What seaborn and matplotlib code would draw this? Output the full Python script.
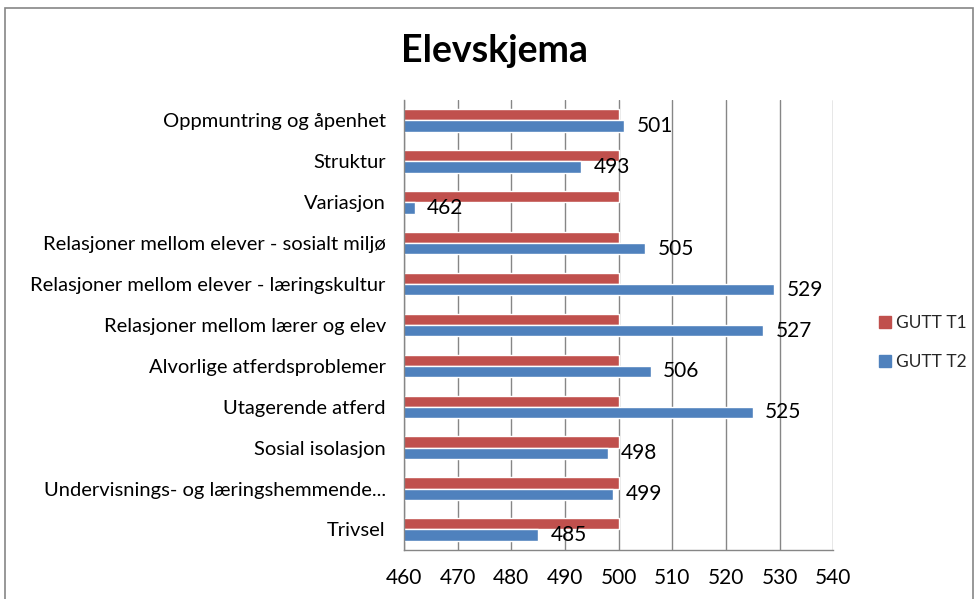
import pandas as pd
import seaborn as sns
import matplotlib.pyplot as plt
from matplotlib.patches import Rectangle
from matplotlib.ticker import FixedLocator

# Data
categories = [
    'Oppmuntring og åpenhet',
    'Struktur',
    'Variasjon',
    'Relasjoner mellom elever - sosialt miljø',
    'Relasjoner mellom elever - læringskultur',
    'Relasjoner mellom lærer og elev',
    'Alvorlige atferdsproblemer',
    'Utagerende atferd',
    'Sosial isolasjon',
    'Undervisnings- og læringshemmende...',
    'Trivsel',
]
gutt_t1 = [500, 500, 500, 500, 500, 500, 500, 500, 500, 500, 500]
gutt_t2 = [501, 493, 462, 505, 529, 527, 506, 525, 498, 499, 485]
series_names = ['GUTT T1', 'GUTT T2']
x_ticks = [460, 470, 480, 490, 500, 510, 520, 530, 540]

df = pd.DataFrame({
    'kategori': categories * 2,
    'verdi': gutt_t1 + gutt_t2,
    'serie': [series_names[0]] * len(categories) + [series_names[1]] * len(categories),
})

sns.set_style('white')
plt.rcParams['font.family'] = ['Lato', 'DejaVu Sans']

fig = plt.figure(figsize=(9.78, 5.99), dpi=100)
ax = fig.add_axes([0.413, 0.082, 0.439, 0.751])

palette = {'GUTT T1': '#C0504D', 'GUTT T2': '#4F81BD'}
sns.barplot(data=df, y='kategori', x='verdi', hue='serie', palette=palette,
            orient='h', width=0.55, gap=0, saturation=1, ax=ax, legend=False)

# value labels on the second series only
ax.bar_label(ax.containers[1], fmt='{:.0f}', padding=9, fontsize=15, color='#000000')

ax.set_xlim(x_ticks[0], x_ticks[-1])
ax.set_xticks(x_ticks)
ax.set_xlabel('')
ax.set_ylabel('')
ax.tick_params(axis='x', labelsize=15, labelcolor='#000000', length=5, width=1,
               color='#868686', direction='out', pad=8)
ax.tick_params(axis='y', which='major', labelsize=14.5, labelcolor='#000000', length=0, pad=13)
ax.yaxis.set_minor_locator(FixedLocator([i - 0.5 for i in range(len(categories) + 1)]))
ax.tick_params(axis='y', which='minor', length=5, width=1, color='#868686', direction='out')

ax.grid(axis='x', color='#868686', linewidth=1)
ax.set_axisbelow(True)
for side in ['top', 'right']:
    ax.spines[side].set_visible(False)
for side in ['left', 'bottom']:
    ax.spines[side].set_color('#868686')
    ax.spines[side].set_linewidth(1)

fig.text(0.506, 0.915, 'Elevskjema', ha='center', va='center', fontsize=27,
         fontweight='bold', color='#000000')

handles = [Rectangle((0, 0), 1, 1, color=palette[s]) for s in series_names]
fig.legend(handles, series_names, loc='center left', bbox_to_anchor=(0.89, 0.428),
           frameon=False, fontsize=12.5, handlelength=0.7, handleheight=0.7,
           handletextpad=0.3, labelspacing=1.3, borderpad=0)

# outer chart frame
fig.patches.append(Rectangle((0.005, -0.02), 0.99, 1.006, transform=fig.transFigure,
                             fill=False, edgecolor='#868686', linewidth=1.2))

plt.savefig('out.png', dpi=100)
plt.close()
